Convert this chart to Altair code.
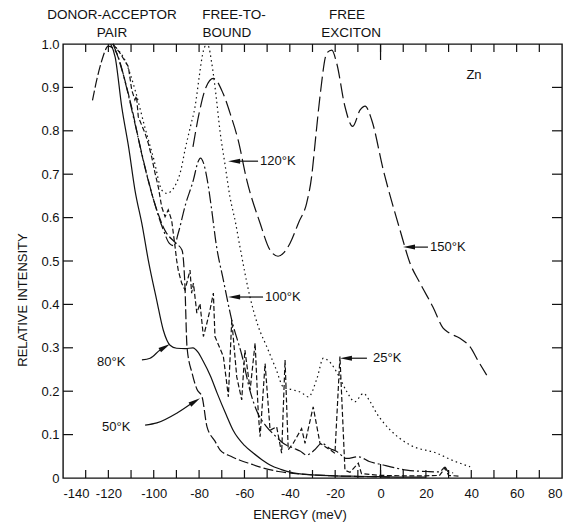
import altair as alt
import pandas as pd

# ---------------- data (energy in meV, relative intensity) ----------------
T25_E = [-118, -115, -111.2, -109.7, -108.3, -107.6, -106.8, -103.8, -102.4, -100.9, -99.4, -98, -96.5, -95,
         -93.6, -92.1, -90.6, -89.9, -89.2, -87.7, -86.2, -84, -83.3, -82.5, -81, -79.6, -78.1, -76.6, -75.2,
         -73.7, -73, -69.3, -67.8, -67.1, -65.6, -63.4, -61.2, -59.8, -57.5, -55.3, -53.9, -53.1, -50.9, -48.7,
         -45.8, -43.6, -42.1, -40.7, -38.5, -34.8, -33.3, -29.7, -26.7, -22.3, -20.1, -17.9, -15.7, -13.5, -9.8,
         -8.4, 0, 10, 20, 26, 28.4, 30, 35]
T25_I = [1.0, 0.98, 0.948, 0.894, 0.871, 0.88, 0.832, 0.794, 0.771, 0.74, 0.702, 0.671, 0.625, 0.602,
         0.618, 0.594, 0.533, 0.502, 0.479, 0.449, 0.433, 0.479, 0.426, 0.449, 0.38, 0.402, 0.326, 0.356, 0.387,
         0.426, 0.326, 0.28, 0.218, 0.187, 0.364, 0.233, 0.18, 0.295, 0.203, 0.311, 0.149, 0.095, 0.264, 0.11,
         0.118, 0.057, 0.272, 0.065, 0.08, 0.114, 0.08, 0.164, 0.08, 0.065, 0.057, 0.28, 0.018, 0.013, 0.034,
         0.01, 0.006, 0.005, 0.005, 0.006, 0.023, 0.006, 0.004]

T50_E = [-127, -125, -123, -120, -117, -114, -110, -105, -100, -95, -90, -87.5, -86.3, -85.3, -83, -81, -78.7,
         -76.5, -73, -70.8, -66, -62, -57, -53, -45, -35, -25, -15, -5, 5]
T50_I = [0.87, 0.92, 0.96, 0.995, 0.985, 0.94, 0.86, 0.74, 0.64, 0.57, 0.54, 0.525, 0.45, 0.30, 0.24, 0.205,
         0.187, 0.118, 0.085, 0.065, 0.05, 0.041, 0.032, 0.025, 0.015, 0.009, 0.006, 0.004, 0.003, 0.002]

T80_E = [-119, -117, -114.1, -111, -108.3, -105, -102.4, -98.7, -95.8, -92.8, -89.9, -86, -82.7, -80.5, -78.3,
         -75, -72, -68, -65, -60, -56, -52, -48.7, -44, -38.5, -30, -20, -10, 0, 10, 20]
T80_I = [1.0, 0.97, 0.855, 0.76, 0.664, 0.58, 0.502, 0.41, 0.341, 0.306, 0.299, 0.298, 0.30, 0.29, 0.27,
         0.235, 0.195, 0.145, 0.11, 0.075, 0.057, 0.041, 0.03, 0.02, 0.012, 0.007, 0.005, 0.004, 0.003, 0.002, 0.002]

T100_E = [-118, -115, -112, -108, -104, -100, -96, -93, -91, -89.2, -86, -82.5, -80.5, -79.4, -78, -76.5, -74.5,
          -72.5, -69.3, -65.6, -61, -57.5, -54.6, -50.2, -46, -42.9, -38, -35.5, -32.6, -29, -26, -22.3, -19.3,
          -14.9, -9.8, -5, 1.2, 6, 11.5, 20.4, 26, 28.4, 30, 32]
T100_I = [1.0, 0.96, 0.90, 0.81, 0.72, 0.64, 0.575, 0.54, 0.535, 0.564, 0.63, 0.687, 0.728, 0.737, 0.725, 0.69,
          0.62, 0.54, 0.456, 0.364, 0.28, 0.2, 0.155, 0.118, 0.095, 0.08, 0.068, 0.062, 0.053, 0.065, 0.08, 0.068,
          0.061, 0.045, 0.049, 0.038, 0.03, 0.024, 0.018, 0.015, 0.014, 0.025, 0.013, 0.012]

T120_E = [-118, -116.3, -112.7, -108, -104, -100, -96.5, -94.3, -91, -88, -86.2, -83.8, -81.8, -79.8, -78.9,
          -77.2, -76, -74.4, -72.5, -70.8, -68.5, -66.4, -64, -62, -57.6, -53.9, -50.2, -46, -42.9, -38.5, -35,
          -31.8, -28, -25.2, -22, -18.6, -15, -11.3, -7.6, -4.5, -1.7, 4.2, 13, 24.8, 32, 39.5]
T120_I = [1.0, 0.99, 0.963, 0.89, 0.81, 0.735, 0.664, 0.656, 0.67, 0.71, 0.756, 0.81, 0.855, 0.93, 0.963,
          0.995, 0.995, 0.955, 0.88, 0.80, 0.72, 0.648, 0.59, 0.533, 0.418, 0.349, 0.303, 0.25, 0.21, 0.203, 0.197,
          0.187, 0.23, 0.276, 0.265, 0.237, 0.2, 0.176, 0.195, 0.175, 0.149, 0.111, 0.076, 0.057, 0.04, 0.026]

T150_E = [-82.7, -80, -77, -73.7, -69.5, -66, -62.8, -59, -53.1, -48.7, -45.2, -42.5, -39.9, -36, -32.6, -30.4,
          -28.5, -26.7, -23.7, -21.5, -19.3, -15.7, -12.3, -9, -6.8, -3.9, 1.2, 8.6, 13, 17.4, 23.1, 27.5, 30,
          35, 39.5, 43, 46.8]
T150_I = [0.763, 0.84, 0.90, 0.921, 0.887, 0.835, 0.779, 0.687, 0.587, 0.525, 0.511, 0.52, 0.541, 0.59, 0.633,
          0.694, 0.79, 0.879, 0.979, 0.986, 0.955, 0.856, 0.81, 0.848, 0.857, 0.825, 0.71, 0.571, 0.495, 0.449,
          0.394, 0.346, 0.335, 0.322, 0.302, 0.27, 0.237]

X_LABELS = [-140, -120, -100, -80, -60, -40, -20, 0, 20, 40, 60, 80]
Y_LABELS = [0, 0.1, 0.2, 0.3, 0.4, 0.5, 0.6, 0.7, 0.8, 0.9, 1.0]
X_TICKS = [-130, -120, -110, -100, -90, -80, -70, -60, -50, -40, -30, -20, -10, 0, 10, 20, 30, 40, 50, 60, 70]
X_LONG_TICKS = [0]
Y_TICKS = [0.1, 0.2, 0.3, 0.4, 0.5, 0.6, 0.7, 0.8, 0.9]

# temperature labels (text, E, I) and arrows
T_LABELS = ["120°K", "100°K", "150°K", "25°K", "80°K", "50°K"]
T_LAB_E = [-53.1, -50.9, 21.8, -3.3, -125.0, -122.8]
T_LAB_I = [0.730, 0.417, 0.532, 0.276, 0.267, 0.118]

ARROW_ID = ["a120", "a120", "a100", "a100", "a150", "a150", "a25", "a25",
            "a80", "a80", "a80", "a80", "a50", "a50", "a50", "a50"]
ARROW_E = [-54.0, -64.0, -51.8, -64.0, 20.9, 13.0, -6.0, -15.0,
           -105.2, -101.6, -97.2, -94.5, -103.8, -98.6, -89.7, -82.0]
ARROW_I = [0.730, 0.730, 0.417, 0.417, 0.532, 0.532, 0.276, 0.276,
           0.272, 0.276, 0.295, 0.303, 0.122, 0.127, 0.150, 0.177]
HEAD_E = [-67.2, -67.2, 9.9, -17.9, -92.8, -79.6]
HEAD_I = [0.730, 0.417, 0.532, 0.276, 0.309, 0.184]
HEAD_ANGLE = [270, 270, 270, 270, 59, 57]

TOP_TEXT = ["DONOR-ACCEPTOR", "PAIR", "FREE-TO-", "BOUND", "FREE", "EXCITON"]
TOP_E = [-118.4, -118.4, -64.6, -67.7, -14.8, -13.0]
TOP_I = [1.067, 1.025, 1.067, 1.025, 1.067, 1.025]

FONT = "Liberation Sans"
INK = "#111111"
W, H = 499, 434

xs = alt.Scale(domain=[-140, 80], nice=False, zero=False)
ys = alt.Scale(domain=[0, 1], nice=False, zero=False)
xaxis = alt.Axis(values=X_LABELS, title=None, ticks=False, domain=False, grid=False,
                 labelPadding=9, labelFontSize=13, labelFont=FONT, labelColor=INK,
                 labelExpr="datum.value < 0 ? '-' + format(-datum.value, 'd') : format(datum.value, 'd')")
yaxis = alt.Axis(values=Y_LABELS, title=None, ticks=False, domain=False, grid=False,
                 labelPadding=4, labelFontSize=13, labelFont=FONT, labelColor=INK,
                 labelExpr="datum.value == 0 ? '0' : format(datum.value, '.1f')")


def X(f):
    return alt.X(f, type="quantitative", scale=xs, axis=xaxis)


def Y(f):
    return alt.Y(f, type="quantitative", scale=ys, axis=yaxis)


series = [
    (T25_E, T25_I, [5, 2.5], "linear"),
    (T50_E, T50_I, [10, 3], "monotone"),
    (T80_E, T80_I, None, "monotone"),
    (T100_E, T100_I, [12, 3, 2, 3], "monotone"),
    (T120_E, T120_I, [1.5, 3.2], "monotone"),
    (T150_E, T150_I, [15, 5], "monotone"),
]

layers = []
for E, I, dash, interp in series:
    df = pd.DataFrame({"E": E, "I": I})
    kw = dict(interpolate=interp, strokeWidth=1.2, color=INK)
    if dash is not None:
        kw["strokeDash"] = dash
    layers.append(alt.Chart(df).mark_line(**kw).encode(x=X("E"), y=Y("I")))

# inward ticks on all four sides
xt = pd.DataFrame({"E": X_TICKS})
xl = pd.DataFrame({"E": X_LONG_TICKS})
yt = pd.DataFrame({"I": Y_TICKS})
layers.append(alt.Chart(xt).mark_rule(color=INK, strokeWidth=1.2).encode(
    x=X("E"), y=alt.value(H), y2=alt.value(H - 8)))
layers.append(alt.Chart(xt).mark_rule(color=INK, strokeWidth=1.2).encode(
    x=X("E"), y=alt.value(0), y2=alt.value(8)))
layers.append(alt.Chart(xl).mark_rule(color=INK, strokeWidth=1.2).encode(
    x=X("E"), y=alt.value(0), y2=alt.value(16)))
layers.append(alt.Chart(xl).mark_rule(color=INK, strokeWidth=1.2).encode(
    x=X("E"), y=alt.value(H), y2=alt.value(H - 14)))
layers.append(alt.Chart(yt).mark_rule(color=INK, strokeWidth=1.2).encode(
    y=Y("I"), x=alt.value(0), x2=alt.value(10)))
layers.append(alt.Chart(yt).mark_rule(color=INK, strokeWidth=1.2).encode(
    y=Y("I"), x=alt.value(W), x2=alt.value(W - 10)))

# annotations
lab = pd.DataFrame({"t": T_LABELS, "E": T_LAB_E, "I": T_LAB_I})
layers.append(alt.Chart(lab).mark_text(align="left", baseline="middle", font=FONT, fontSize=13,
                                       color=INK).encode(x=X("E"), y=Y("I"), text="t:N"))
arr = pd.DataFrame({"g": ARROW_ID, "E": ARROW_E, "I": ARROW_I, "o": list(range(len(ARROW_ID)))})
layers.append(alt.Chart(arr).mark_line(color=INK, strokeWidth=1.2, interpolate="monotone").encode(
    x=X("E"), y=Y("I"), detail="g:N", order="o:Q"))
heads = pd.DataFrame({"E": HEAD_E, "I": HEAD_I, "a": HEAD_ANGLE})
layers.append(alt.Chart(heads).mark_point(shape="M0,0 L0.5,2.4 L-0.5,2.4 Z", filled=True, size=100,
                                          color=INK, opacity=1).encode(
    x=X("E"), y=Y("I"), angle=alt.Angle("a:Q", scale=None)))
top = pd.DataFrame({"t": TOP_TEXT, "E": TOP_E, "I": TOP_I})
layers.append(alt.Chart(top).mark_text(align="center", baseline="middle", font=FONT, fontSize=13.5,
                                       color=INK).encode(x=X("E"), y=Y("I"), text="t:N"))
zn = pd.DataFrame({"t": ["Zn"], "E": [41.2], "I": [0.929]})
layers.append(alt.Chart(zn).mark_text(align="center", baseline="middle", font=FONT, fontSize=13,
                                      color=INK).encode(x=X("E"), y=Y("I"), text="t:N"))

one = pd.DataFrame({"t": ["ENERGY (meV)"]})
layers.append(alt.Chart(one).mark_text(align="center", baseline="middle", font=FONT, fontSize=13,
                                       color=INK).encode(x=alt.value(237), y=alt.value(H + 37), text="t:N"))
one2 = pd.DataFrame({"t": ["RELATIVE INTENSITY"]})
layers.append(alt.Chart(one2).mark_text(align="center", baseline="middle", font=FONT, fontSize=13,
                                        color=INK, angle=270).encode(x=alt.value(-40), y=alt.value(256),
                                                                     text="t:N"))

chart = alt.layer(*layers).properties(
    width=W, height=H,
    autosize=alt.AutoSizeParams(type="none"),
    padding={"left": 63, "top": 44, "right": 9, "bottom": 44},
    background="white",
).configure_view(stroke=INK, strokeWidth=1.4)

chart.save("out.html", embed_options={"renderer": "svg", "actions": False})
